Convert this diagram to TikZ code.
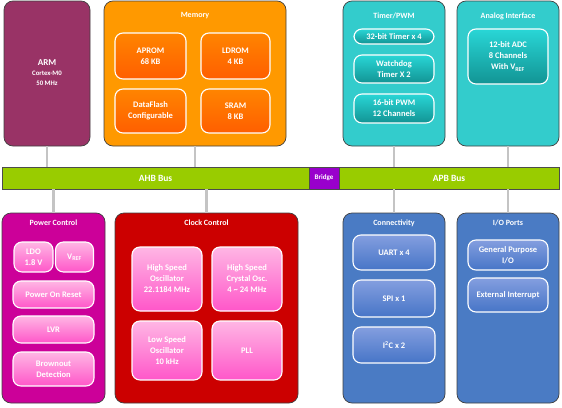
\documentclass[tikz,border=0pt]{standalone}
\usepackage{fontspec}
\setmainfont{Carlito}
\usepackage{tikz}

\definecolor{armc}{HTML}{993366}
\definecolor{memc}{HTML}{FF9900}
\definecolor{tmrc}{HTML}{33CCCC}
\definecolor{pwrc}{HTML}{CC0099}
\definecolor{clkc}{HTML}{CC0000}
\definecolor{conc}{HTML}{4A7BC4}
\definecolor{busc}{HTML}{99CC00}
\definecolor{brgc}{HTML}{9900CC}
\definecolor{linkc}{HTML}{C4C4C4}

\begin{document}
\begin{tikzpicture}[x=1pt, y=-1pt,
	block/.style={draw=black!75, line width=0.7pt, rounded corners=9pt, inner sep=0pt},
	cell/.style={draw=white, line width=1.1pt, rounded corners=8pt, inner sep=1pt,
		text=white, align=center, font=\bfseries\fontsize{8.5}{11}\selectfont},
	memcell/.style={cell, top color=orange!80!memc, bottom color=orange!60!red!90!yellow},
	tmrcell/.style={cell, top color=tmrc!80!cyan, bottom color=tmrc!50!black!70!cyan},
	pwrcell/.style={cell, top color=pink!70!magenta!60, bottom color=magenta!50!pink!90!red},
	concell/.style={cell, top color=conc!60!white!90!blue, bottom color=conc!95!blue},
	title/.style={text=white, font=\bfseries\fontsize{8}{9}\selectfont},
	bus/.style={draw=black!70, line width=0.7pt, inner sep=0pt, minimum height=22pt,
		text=white, font=\bfseries\fontsize{9.5}{11}\selectfont},
	link/.style={draw=linkc, line width=2.5pt}]
	\useasboundingbox (0,0) rectangle (562,407);
	
	% busses
	\node[bus, fill=busc, minimum width=307pt] (ahb) at (155.5,178) {AHB Bus};
	\node[bus, fill=brgc, minimum width=30pt, font=\bfseries\fontsize{7}{8}\selectfont] (brg) at (324,178) {Bridge};
	\node[bus, fill=busc, minimum width=220pt] (apb) at (449,178) {APB Bus};
	
	% top row
	\node[block, fill=armc, minimum width=86pt, minimum height=145pt] (arm) at (47,73.5) {};
	\node[block, fill=memc, minimum width=182pt, minimum height=145pt] (mem) at (195,73.5) {};
	\node[block, fill=tmrc, minimum width=102pt, minimum height=145pt] (tmr) at (394,73.5) {};
	\node[block, fill=tmrc, minimum width=102pt, minimum height=145pt] (ana) at (508,73.5) {};
	
	% bottom row
	\node[block, fill=pwrc, minimum width=103pt, minimum height=190pt] (pwr) at (53.5,308) {};
	\node[block, fill=clkc, minimum width=183pt, minimum height=190pt] (clk) at (206.5,308) {};
	\node[block, fill=conc, minimum width=102pt, minimum height=190pt] (con) at (394,308) {};
	\node[block, fill=conc, minimum width=102pt, minimum height=190pt] (iop) at (508,308) {};
	
	% links
	\draw[link] (arm.south) -- (arm.south |- ahb.north);
	\draw[link] (mem.south) -- (mem.south |- ahb.north);
	\draw[link] (tmr.south) -- (tmr.south |- apb.north);
	\draw[link] (ana.south) -- (ana.south |- apb.north);
	\draw[link] (pwr.north) -- (pwr.north |- ahb.south);
	\draw[link] (clk.north) -- (clk.north |- ahb.south);
	\draw[link] (con.north) -- (con.north |- apb.south);
	\draw[link] (iop.north) -- (iop.north |- apb.south);
	
	% titles
	\node[text=white, align=center, font=\bfseries\fontsize{6.8}{10}\selectfont] (armT) at (47,72.5)
	{{\fontsize{9}{10}\selectfont ARM}\\Cortex-M0\\50 MHz};
	\node[title] (memT) at (195,16) {Memory};
	\node[title] (tmrT) at (394,16) {Timer/PWM};
	\node[title] (anaT) at (508,16) {Analog Interface};
	\node[title] (pwrT) at (53.5,223) {Power Control};
	\node[title] (clkT) at (206.5,223) {Clock Control};
	\node[title] (conT) at (394,223) {Connectivity};
	\node[title] (iopT) at (508,223) {I/O Ports};
	
	% memory
	\node[memcell, minimum width=71pt, minimum height=46pt] (aprom) at (150.5,56) {APROM\\68 KB};
	\node[memcell, minimum width=69pt, minimum height=46pt] (ldrom) at (235.5,56) {LDROM\\4 KB};
	\node[memcell, minimum width=71pt, minimum height=44pt] (dflash) at (150.5,111) {DataFlash\\Configurable};
	\node[memcell, minimum width=69pt, minimum height=44pt] (sram) at (235.5,111) {SRAM\\8 KB};
	
	% timer / analog
	\node[tmrcell, minimum width=80pt, minimum height=15pt] (tmr32) at (394,36.5) {32-bit Timer x 4};
	\node[tmrcell, minimum width=80pt, minimum height=28pt] (wdt) at (394,69) {Watchdog\\Timer X 2};
	\node[tmrcell, minimum width=80pt, minimum height=29pt] (pwm) at (394,108.5) {16-bit PWM\\12 Channels};
	\node[tmrcell, minimum width=80pt, minimum height=55pt] (adc) at (508,56.5) {12-bit ADC\\8 Channels\\With V\textsubscript{REF}};
	
	% power
	\node[pwrcell, minimum width=39pt, minimum height=30pt] (ldo) at (33.5,257) {LDO\\1.8 V};
	\node[pwrcell, minimum width=38pt, minimum height=30pt] (vref) at (74.5,257) {V\textsubscript{REF}};
	\node[pwrcell, minimum width=81pt, minimum height=27pt] (por) at (53.5,294.5) {Power On Reset};
	\node[pwrcell, minimum width=81pt, minimum height=27pt] (lvr) at (53.5,329.5) {LVR};
	\node[pwrcell, minimum width=81pt, minimum height=34pt] (bod) at (53.5,369) {Brownout\\Detection};
	
	% clock
	\node[pwrcell, minimum width=70pt, minimum height=64pt] (hso) at (167,279) {High Speed\\Oscillator\\22.1184 MHz};
	\node[pwrcell, minimum width=70pt, minimum height=64pt] (hxt) at (247,279) {High Speed\\Crystal Osc.\\4 \textasciitilde{} 24 MHz};
	\node[pwrcell, minimum width=70pt, minimum height=59pt] (lso) at (167,350.5) {Low Speed\\Oscillator\\10 kHz};
	\node[pwrcell, minimum width=70pt, minimum height=59pt] (pll) at (247,350.5) {PLL};
	
	% connectivity / io
	\node[concell, minimum width=82pt, minimum height=35pt] (uart) at (394,252.5) {UART x 4};
	\node[concell, minimum width=82pt, minimum height=37pt] (spi) at (394,298.5) {SPI x 1};
	\node[concell, minimum width=82pt, minimum height=36pt] (i2c) at (394,345) {I\textsuperscript{2}C x 2};
	\node[concell, minimum width=80pt, minimum height=30pt] (gpio) at (508,255) {General Purpose\\I/O};
	\node[concell, minimum width=80pt, minimum height=34pt] (eint) at (508,295) {External Interrupt};
\end{tikzpicture}
\end{document}
